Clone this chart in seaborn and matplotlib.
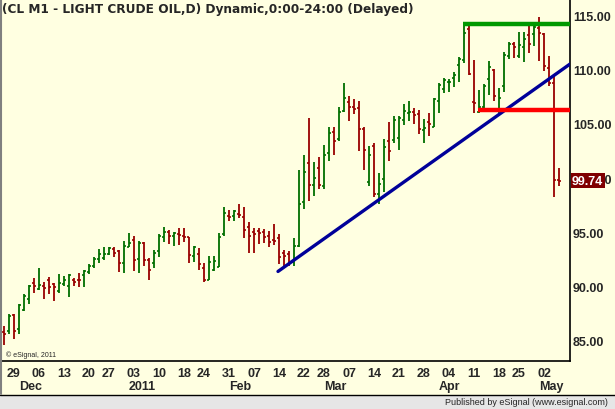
import numpy as np
import pandas as pd
import matplotlib
matplotlib.use('Agg')
import matplotlib.pyplot as plt
import matplotlib.transforms as mtransforms
from matplotlib.lines import Line2D
from matplotlib.patches import Rectangle
import seaborn as sns

# CL M1 daily bars, 24 Nov 2010 - 5 May 2011
opens = [85.7, 85.8, 87.3, 86.0, 87.8, 88.8, 90.3, 89.7, 90.0, 90.6,
         90.2, 89.5, 90.2, 90.0, 90.55, 90.6, 91.0, 91.3, 91.9, 92.5,
         92.6, 93.0, 93.4, 93.2, 92.1, 93.6, 94.3, 92.5, 93.95, 92.4,
         92.1, 93.2, 94.5, 95.0, 94.65, 94.8, 94.65, 94.5, 92.8, 93.0,
         91.7, 90.6, 91.5, 91.8, 94.8, 96.5, 96.5, 96.7, 96.35, 95.5,
         95.0, 95.1, 95.0, 94.65, 94.25, 94.4, 93.1, 93.0, 92.25, 93.7,
         97.8, 101.4, 99.35, 100.9, 99.3, 102.3, 104.3, 103.6, 106.2, 107.0,
         106.55, 106.45, 104.5, 99.6, 103.0, 98.5, 99.9, 103.45, 103.5, 103.7,
         105.4, 106.0, 106.1, 105.9, 104.4, 105.15, 104.75, 107.1, 108.2, 108.85,
         109.3, 110.5, 110.9, 113.8, 107.0, 106.1, 106.6, 109.2, 110.0, 106.2,
         108.5, 111.3, 112.4, 111.3, 112.1, 113.25, 113.3, 113.9, 113.3, 110.15,
         108.8, 99.8]
highs = [86.3, 87.4, 87.4, 88.3, 89.3, 90.1, 90.7, 91.7, 90.4, 90.8,
         90.3, 91.1, 90.9, 91.1, 90.7, 91.2, 91.5, 92.0, 92.65, 93.4,
         93.6, 93.6, 93.6, 93.3, 94.2, 94.9, 94.6, 94.2, 94.1, 92.6,
         93.3, 94.8, 95.5, 95.2, 95.0, 95.4, 95.4, 94.5, 93.7, 93.5,
         92.1, 92.8, 92.8, 94.9, 97.3, 97.0, 97.0, 97.6, 97.3, 95.9,
         95.4, 95.4, 95.3, 95.05, 95.7, 94.8, 93.3, 93.2, 94.4, 100.7,
         102.1, 105.6, 101.45, 101.9, 103.05, 104.7, 104.75, 106.6, 108.8, 107.6,
         107.3, 107.15, 104.7, 103.0, 103.2, 100.5, 103.6, 105.15, 105.7, 105.7,
         106.85, 107.1, 106.45, 106.3, 105.45, 106.0, 107.4, 108.75, 109.3, 109.2,
         109.8, 111.2, 114.25, 114.1, 110.9, 108.15, 108.7, 110.8, 110.1, 108.3,
         111.7, 112.6, 112.6, 113.55, 113.55, 114.15, 114.15, 114.95, 113.4, 111.3,
         109.6, 100.9]
lows = [84.5, 85.6, 85.1, 85.6, 87.7, 88.3, 89.4, 89.6, 88.8, 89.3,
        88.6, 89.4, 90.0, 89.0, 90.0, 89.9, 89.9, 91.1, 91.7, 92.1,
        92.4, 92.9, 92.7, 91.3, 91.2, 93.6, 91.4, 91.2, 91.9, 90.6,
        91.7, 92.7, 94.1, 93.9, 93.7, 93.8, 94.1, 92.1, 92.2, 91.5,
        90.35, 90.55, 91.4, 91.8, 94.65, 96.0, 96.05, 96.3, 94.4, 93.1,
        93.1, 93.9, 94.0, 93.6, 93.8, 92.0, 91.8, 91.9, 91.9, 93.6,
        97.1, 97.9, 98.3, 99.0, 99.0, 101.6, 102.1, 103.45, 106.1, 105.3,
        105.9, 102.5, 100.7, 99.3, 98.2, 97.6, 98.7, 101.55, 103.2, 102.6,
        104.9, 105.25, 105.0, 104.1, 103.2, 103.9, 104.7, 106.0, 107.9, 108.0,
        108.4, 108.85, 110.6, 109.5, 106.0, 106.0, 106.4, 107.7, 107.1, 106.0,
        108.0, 111.0, 111.1, 111.1, 110.7, 111.6, 112.25, 110.8, 109.9, 108.55,
        98.2, 99.3]
closes = [85.6, 87.2, 85.8, 88.2, 89.1, 90.0, 90.0, 90.1, 89.8, 89.95,
          89.9, 90.25, 90.6, 91.0, 90.4, 90.55, 91.4, 91.9, 92.5, 93.0,
          93.0, 93.5, 93.1, 92.1, 93.7, 93.95, 92.4, 93.95, 92.4, 91.5,
          93.1, 94.65, 95.0, 94.65, 94.9, 94.75, 94.55, 92.9, 93.6, 92.0,
          90.55, 92.2, 92.35, 94.55, 96.8, 96.4, 96.95, 96.6, 95.2, 94.65,
          94.8, 94.9, 94.55, 94.1, 94.15, 92.65, 92.8, 92.1, 93.7, 97.6,
          100.6, 99.35, 100.0, 99.35, 102.1, 104.2, 103.45, 106.1, 107.4, 106.6,
          106.4, 104.5, 102.6, 102.1, 98.5, 99.45, 102.9, 102.5, 105.4, 105.55,
          106.2, 106.1, 105.85, 104.55, 104.6, 105.0, 107.3, 108.65, 109.1, 108.9,
          109.5, 111.0, 113.4, 109.6, 106.9, 106.6, 108.5, 110.25, 107.55, 107.4,
          111.4, 112.4, 112.1, 112.3, 112.9, 112.4, 114.0, 113.4, 110.4, 108.8,
          99.8, 99.74]

holidays = ['2010-11-25', '2010-12-24', '2011-01-17', '2011-02-21', '2011-04-22']

# drawn studies (x in bar number)
trend_x = [54.8, 113.2]
trend_y = [91.35, 110.55]
resist_level, resist_start = 114.28, 91.8
support_level, support_start = 106.3, 94.8
last_price = 99.74
y_ticks = [85, 90, 95, 100, 105, 110, 115]

dates = pd.bdate_range('2010-11-24', '2011-05-05')
dates = dates[~dates.isin(pd.to_datetime(holidays))]

sns.set_style('white')
plt.rcParams['font.family'] = ['Liberation Sans', 'DejaVu Sans']

bg = '#FFFFE1'
up_col = '#006E00'
dn_col = '#990000'

fig = plt.figure(figsize=(6.15, 4.10), dpi=100, facecolor=bg)
ax = fig.add_axes([2 / 615, 48 / 410, 568 / 615, 362 / 410])
ax.set_facecolor(bg)

o = np.array(opens)
h = np.array(highs)
l = np.array(lows)
c = np.array(closes)
x = np.arange(len(o))
up = c >= o
for mask, col in [(up, up_col), (~up, dn_col)]:
    ax.vlines(x[mask], l[mask], h[mask], color=col, lw=1.3)
    ax.hlines(o[mask], x[mask] - 0.45, x[mask], color=col, lw=1.2)
    ax.hlines(c[mask], x[mask], x[mask] + 0.45, color=col, lw=1.2)

xmin, xmax = -0.4, 113.2
sns.lineplot(x=trend_x, y=trend_y, ax=ax, color='#000099', lw=2.4, zorder=4)
ax.hlines(resist_level, resist_start, xmax, color='#009900', lw=3.2, zorder=4)
ax.hlines(support_level, support_start, xmax, color='#FF0000', lw=3.2, zorder=4)

ax.set_xlim(xmin, xmax)
ax.set_ylim(83.06, 116.57)

# axes frame
for side in ['left', 'top']:
    ax.spines[side].set_visible(False)
for side in ['right', 'bottom']:
    ax.spines[side].set_color('black')
    ax.spines[side].set_linewidth(1.2)

ax.yaxis.tick_right()
ax.set_yticks(y_ticks)
ax.set_yticklabels([f'{v:.2f}' for v in y_ticks], fontsize=9, fontweight='bold')
ax.tick_params(axis='y', length=0, pad=2)

# weekly ticks and month row
week_idx = [i for i in range(1, len(dates))
            if dates[i].isocalendar().week != dates[i - 1].isocalendar().week]
ax.set_xticks(week_idx)
ax.set_xticklabels([dates[i].strftime('%d') for i in week_idx],
                   fontsize=9, fontweight='bold')
ax.tick_params(axis='x', length=3, width=1, direction='out', pad=1.5, color='black')

trans = mtransforms.blended_transform_factory(ax.transData, ax.transAxes)
for i in range(1, len(dates)):
    if dates[i].month != dates[i - 1].month:
        lab = str(dates[i].year) if dates[i].month == 1 else dates[i].strftime('%b')
        ax.text(i - 1, -0.069, lab, transform=trans, ha='left', va='center',
                fontsize=9, fontweight='bold')

# last price box
ptrans = mtransforms.blended_transform_factory(ax.transAxes, ax.transData)
ax.text(1.0 + 2 / 568, last_price, f'{last_price:.2f}', transform=ptrans,
        ha='left', va='center', color='white', fontsize=9, fontweight='bold',
        bbox=dict(boxstyle='square,pad=0.12', fc='#800000', ec='none'), zorder=6)

ax.text(4 / 568, 7 / 362, '\u00a9 eSignal, 2011', transform=ax.transAxes,
        fontsize=5, va='center', ha='left')

fig.text(2 / 615, 1 - 10 / 410, '(CL M1 - LIGHT CRUDE OIL,D) Dynamic,0:00-24:00 (Delayed)',
         ha='left', va='center', fontsize=8.7, fontweight='bold', family='DejaVu Sans')

# footer strip
fig.add_artist(Rectangle((0, 0), 1, 14 / 410, transform=fig.transFigure,
                         fc='#E6E6E6', ec='none'))
fig.add_artist(Line2D([0, 1], [14.5 / 410, 14.5 / 410], transform=fig.transFigure,
                      color='black', lw=1))
fig.add_artist(Line2D([0.8 / 615, 0.8 / 615], [15 / 410, 1], transform=fig.transFigure,
                      color='#808080', lw=1.5))
fig.text(608 / 615, 7 / 410, 'Published by eSignal (www.esignal.com)',
         ha='right', va='center', fontsize=6.5)

fig.savefig('out.png', dpi=100, facecolor=bg)
